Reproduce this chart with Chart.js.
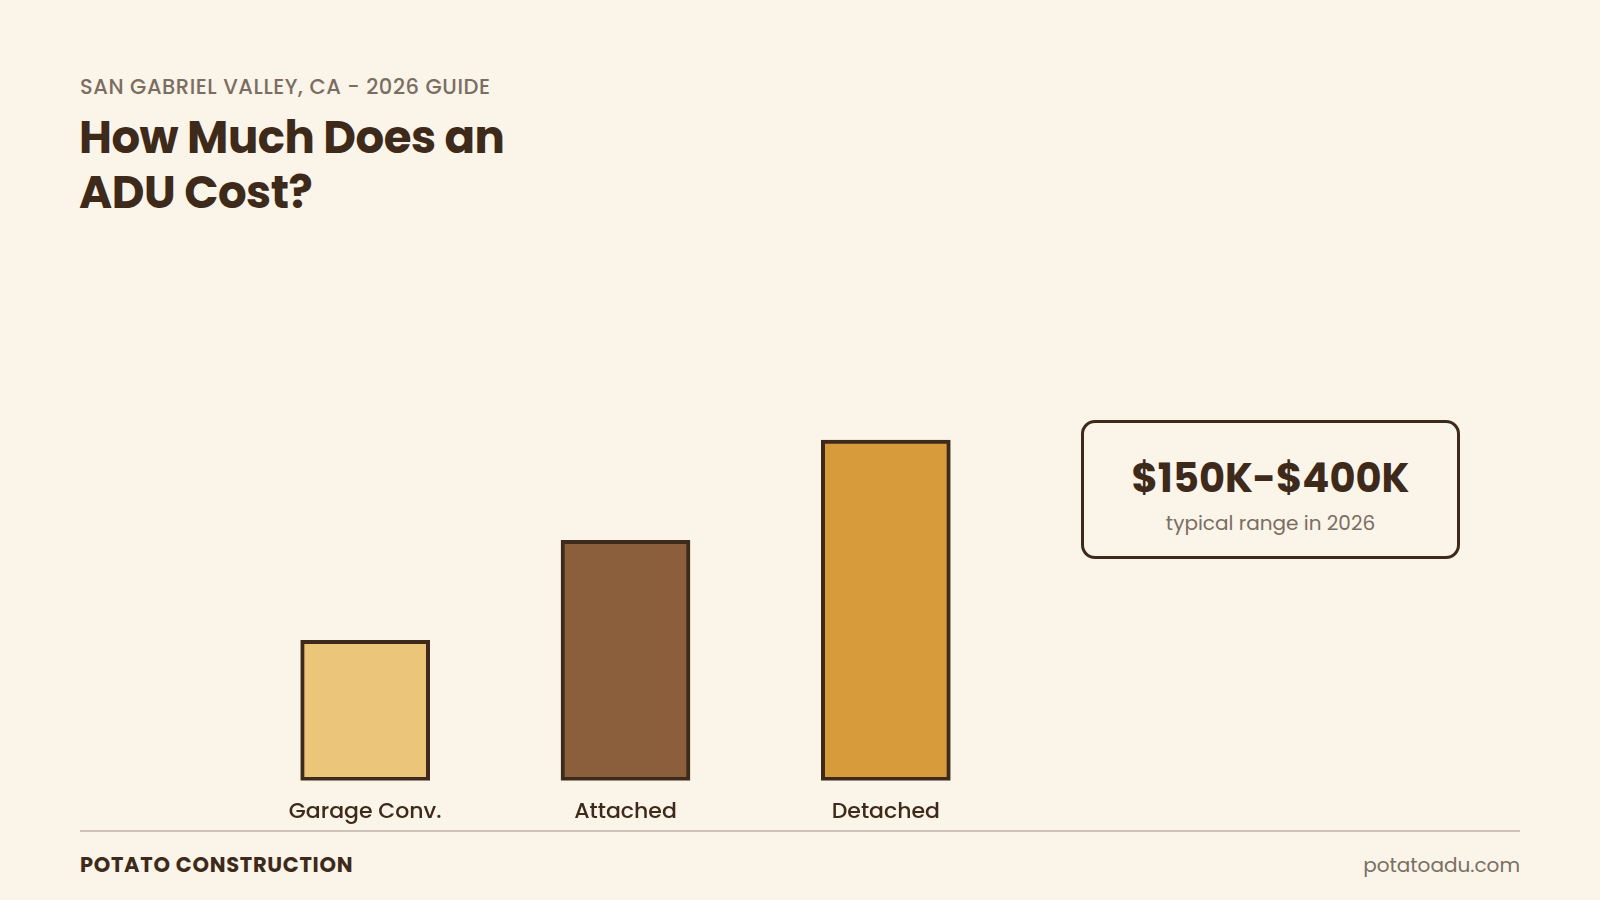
<!DOCTYPE html>
<html>
<head>
<meta charset="utf-8">
<script src="https://cdn.jsdelivr.net/npm/chart.js@4.4.1/dist/chart.umd.min.js"></script>
<style>
  html, body { margin:0; padding:0; }
  body { width:1600px; height:900px; background:#fbf4e9; position:relative; overflow:hidden;
         font-family: Poppins, Inter, "Open Sans", sans-serif; color:#3e2a1a; }
  .eyebrow { position:absolute; left:80px; top:71px; font-size:21px; font-weight:500; color:#7a6e62; letter-spacing:0.55px; }
  .title { position:absolute; left:79px; top:110px; font-size:45px; font-weight:700; line-height:55px; color:#3e2a1a; letter-spacing:-0.5px; }
  #wrap { position:absolute; left:235px; top:400px; width:781px; height:445px; }
  .callout { position:absolute; left:1081px; top:420px; width:373px; height:133px; border:3px solid #3e2a1a; border-radius:14px; text-align:center; box-sizing:content-box; }
  .callout .big { margin-top:33px; font-size:40px; font-weight:700; line-height:44px; }
  .callout .small { margin-top:8px; font-size:20px; color:#7a6e62; }
  .rule { position:absolute; left:80px; top:830px; width:1440px; height:2px; background:#cdc3b6; }
  .brand { position:absolute; left:80px; top:849px; font-size:21px; font-weight:700; letter-spacing:0.7px; }
  .site { position:absolute; right:80px; top:850px; font-size:20px; color:#7a6e62; }
</style>
</head>
<body>
<div class="eyebrow">SAN GABRIEL VALLEY, CA - 2026 GUIDE</div>
<div class="title">How Much Does an<br>ADU Cost?</div>
<div id="wrap"><canvas id="chart"></canvas></div>
<div class="callout">
  <div class="big">$150K-$400K</div>
  <div class="small">typical range in 2026</div>
</div>
<div class="rule"></div>
<div class="brand">POTATO CONSTRUCTION</div>
<div class="site">potatoadu.com</div>
<script>
// data
const categories = ['Garage Conv.', 'Attached', 'Detached'];
const costIndex = [140, 240, 340];
const barColors = ['#ebc579', '#8b5e3c', '#d79b3b'];

const ctx = document.getElementById('chart').getContext('2d');
new Chart(ctx, {
  type: 'bar',
  data: {
    labels: categories,
    datasets: [{
      data: costIndex,
      backgroundColor: barColors,
      borderColor: '#3e2a1a',
      borderWidth: 4,
      borderSkipped: false,
      barThickness: 129
    }]
  },
  options: {
    responsive: true,
    maintainAspectRatio: false,
    animation: false,
    layout: { padding: 0 },
    plugins: { legend: { display: false }, tooltip: { enabled: false } },
    scales: {
      x: {
        grid: { display: false, drawTicks: false },
        border: { display: false },
        ticks: { color: '#3e2a1a', padding: 19, font: { family: 'Poppins, Inter, sans-serif', size: 22, weight: 500 } }
      },
      y: { display: false, min: 0, max: 380 }
    }
  }
});
</script>
</body>
</html>
